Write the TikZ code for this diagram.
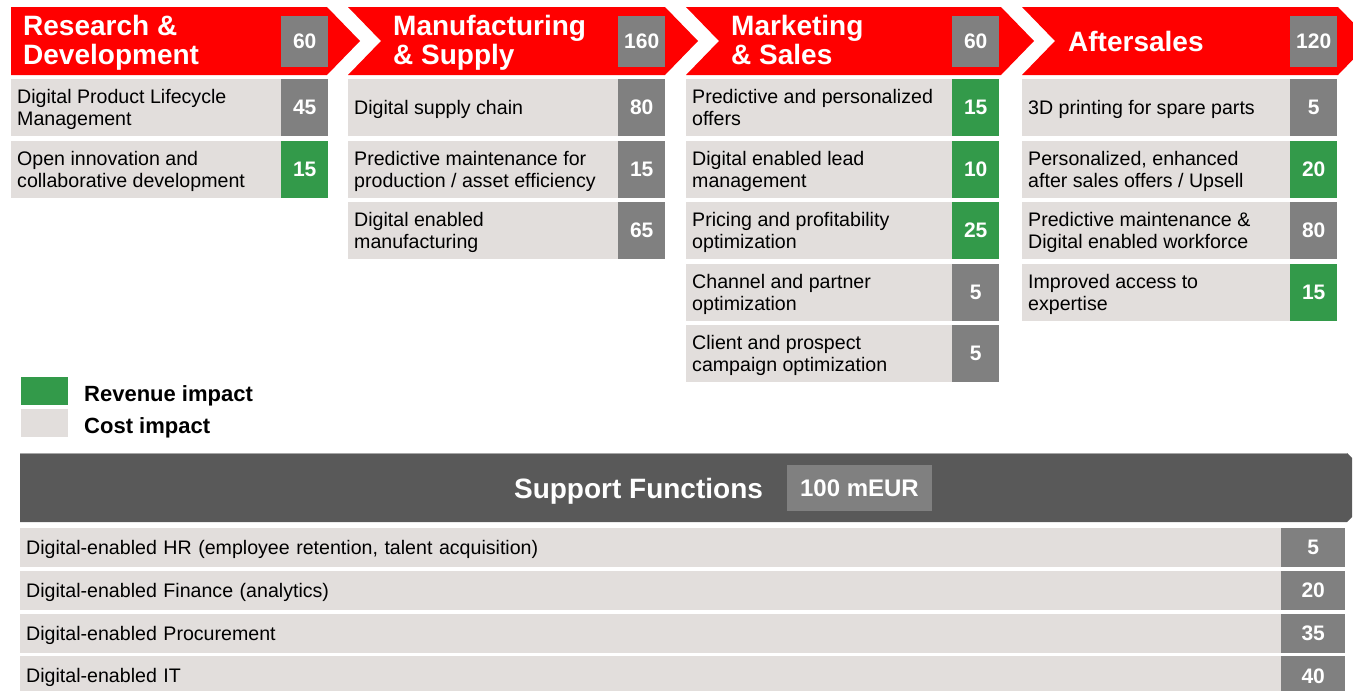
\documentclass[tikz,border=0pt]{standalone}
\usepackage{fontspec}
\setmainfont{Liberation Sans}
\definecolor{chevred}{HTML}{FF0000}
\definecolor{numgray}{HTML}{808080}
\definecolor{revgreen}{HTML}{339A4A}
\definecolor{rowgray}{HTML}{E2DEDC}
\definecolor{darkbar}{HTML}{595959}
\tikzset{
  rowbox/.style={fill=rowgray, inner sep=0pt, minimum height=57pt, anchor=north west},
  rowtext/.style={inner sep=0pt, anchor=north west, align=left, font=\fontsize{19.6}{22}\selectfont},
  numbox/.style={fill=numgray, text=white, font=\bfseries\fontsize{21}{24}\selectfont,
    minimum height=57pt, minimum width=47pt, inner sep=0pt, anchor=north west},
  headtitle/.style={text=white, anchor=north west, align=left, inner sep=0pt,
    font=\bfseries\fontsize{28}{29}\selectfont},
  headnum/.style={fill=numgray, text=white, font=\bfseries\fontsize{21}{24}\selectfont,
    minimum height=51pt, minimum width=47pt, inner sep=0pt, anchor=north west},
  legtext/.style={anchor=base west, inner sep=0pt, font=\bfseries\fontsize{22}{24}\selectfont},
  legbox/.style={minimum width=47pt, minimum height=28pt, inner sep=0pt, anchor=north west},
  suprow/.style={fill=rowgray, inner xsep=6pt, inner ysep=0pt, minimum height=39pt,
    anchor=north west, align=left, text width=1249pt, text height=14.2pt, text depth=0pt,
    font=\fontsize{19.6}{22}\selectfont},
  supnum/.style={fill=numgray, text=white, font=\bfseries\fontsize{21}{24}\selectfont,
    minimum height=39pt, minimum width=64pt, inner sep=0pt, anchor=north west},
}
% #1 name, #2 x left, #3 width of text part, #4 row index, #5 text, #6 number, #7 colour, #8 offset of first cap top
\newcommand\vrow[8]{%
  \pgfmathsetmacro\vry{79+61.5*#4}%
  \pgfmathsetmacro\vrty{79+61.5*#4+#8}%
  \pgfmathsetmacro\vrnx{#2+#3}%
  \pgfmathsetmacro\vrtx{#2+6}%
  \node[rowbox, minimum width=#3pt] (#1b) at (#2,\vry) {};
  \node[rowtext] (#1t) at (\vrtx,\vrty) {#5};
  \node[numbox, fill=#7] (#1n) at (\vrnx,\vry) {#6};
}
% #1 name, #2 row index, #3 text, #4 number
\newcommand\srow[4]{%
  \pgfmathsetmacro\sry{528+42.7*#2}%
  \node[suprow] (#1t) at (20,\sry) {#3};
  \node[supnum] (#1n) at (1281,\sry) {#4};
}
\begin{document}
\begin{tikzpicture}[x=1pt,y=-1pt]
\useasboundingbox (0,0) rectangle (1353,691);
\clip (0,0) rectangle (1353,691);
% chevrons
\fill[chevred] (11,7) -- (327,7) -- (360,41) -- (327,75) -- (11,75) -- cycle;
\fill[chevred] (348,7) -- (665,7) -- (698,41) -- (665,75) -- (348,75) -- (381,41) -- cycle;
\fill[chevred] (686,7) -- (1001,7) -- (1034,41) -- (1001,75) -- (686,75) -- (719,41) -- cycle;
\fill[chevred] (1022,7) -- (1338,7) -- (1371,41) -- (1338,75) -- (1022,75) -- (1055,41) -- cycle;
\node[headtitle] (h1) at (23,15.5) {Research \&\\Development};
\node[headtitle] (h2) at (393,15.5) {Manufacturing\\\& Supply};
\node[headtitle] (h3) at (731,15.5) {Marketing\\\& Sales};
\node[headtitle] (h4) at (1068,31.5) {Aftersales};
\node[headnum] (h1n) at (281,16) {60};
\node[headnum] (h2n) at (618,16) {160};
\node[headnum] (h3n) at (952,16) {60};
\node[headnum] (h4n) at (1290,16) {120};
% R&D
\vrow{rdA}{11}{270}{0}{Digital Product Lifecycle\\Management}{45}{numgray}{10.5}
\vrow{rdB}{11}{270}{1}{Open innovation and\\collaborative development}{15}{revgreen}{10.5}
% Manufacturing
\vrow{msA}{348}{270}{0}{Digital supply chain}{80}{numgray}{21.3}
\vrow{msB}{348}{270}{1}{Predictive maintenance for\\production / asset efficiency}{15}{numgray}{10.5}
\vrow{msC}{348}{270}{2}{Digital enabled\\manufacturing}{65}{numgray}{10.5}
% Marketing
\vrow{mkA}{686}{266}{0}{Predictive and personalized\\offers}{15}{revgreen}{10.5}
\vrow{mkB}{686}{266}{1}{Digital enabled lead\\management}{10}{revgreen}{10.5}
\vrow{mkC}{686}{266}{2}{Pricing and profitability\\optimization}{25}{revgreen}{10.5}
\vrow{mkD}{686}{266}{3}{Channel and partner\\optimization}{5}{numgray}{10.5}
\vrow{mkE}{686}{266}{4}{Client and prospect\\campaign optimization}{5}{numgray}{10.5}
% Aftersales
\vrow{asA}{1022}{268}{0}{3D printing for spare parts}{5}{numgray}{21.3}
\vrow{asB}{1022}{268}{1}{Personalized, enhanced\\after sales offers / Upsell}{20}{revgreen}{10.5}
\vrow{asC}{1022}{268}{2}{Predictive maintenance \&\\Digital enabled workforce}{80}{numgray}{10.5}
\vrow{asD}{1022}{268}{3}{Improved access to\\expertise}{15}{revgreen}{10.5}
% legend
\node[legbox, fill=revgreen] (legrev) at (21,377) {};
\node[legbox, fill=rowgray] (legcost) at (21,409) {};
\node[legtext] (legrevt) at (84,401) {Revenue impact};
\node[legtext] (legcostt) at (84,433) {Cost impact};
% support functions bar
\fill[darkbar] (20,453) -- (1347,453) -- (1352,458) -- (1352,517) -- (1347,522) -- (20,522) -- cycle;
\draw[gray!70, line width=1pt] (20,453.5) -- (1347,453.5);
\node[text=white, inner sep=0pt, text height=20pt, text depth=0pt,
  font=\bfseries\fontsize{28}{30}\selectfont] (sft) at (638.5,488.5) {Support Functions};
\node[fill=numgray, text=white, minimum width=145pt, minimum height=46pt, inner sep=0pt,
  text height=17.2pt, text depth=0pt,
  font=\bfseries\fontsize{24}{26}\selectfont] (sfn) at (859.5,488) {100 mEUR};
\srow{sA}{0}{Digital-enabled HR (employee retention, talent acquisition)}{5}
\srow{sB}{1}{Digital-enabled Finance (analytics)}{20}
\srow{sC}{2}{Digital-enabled Procurement}{35}
\srow{sD}{3}{Digital-enabled IT}{40}
\end{tikzpicture}
\end{document}
